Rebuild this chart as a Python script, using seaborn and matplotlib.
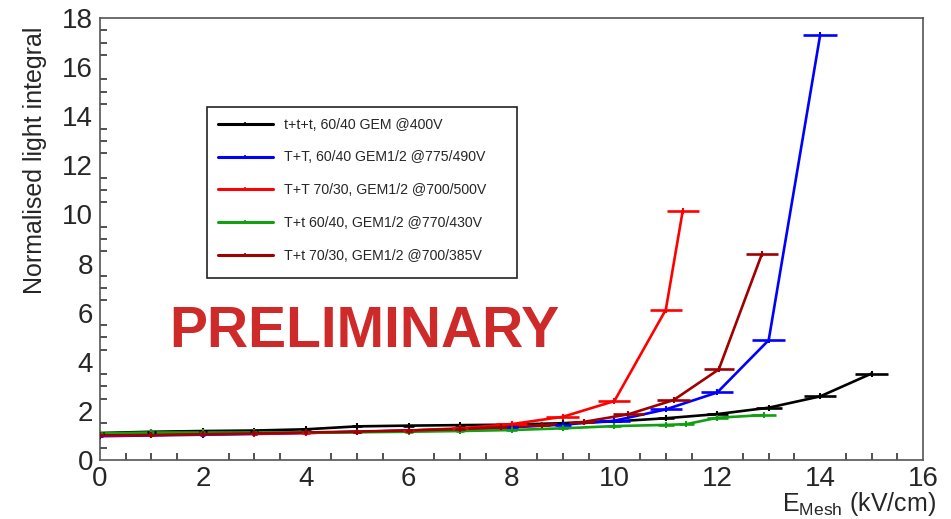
import matplotlib
matplotlib.use("Agg")
import matplotlib.pyplot as plt
from matplotlib.ticker import MultipleLocator
from matplotlib.patches import Rectangle
import seaborn as sns
import pandas as pd

# Normalised light integral vs mesh field for the gas / GEM configurations
labels = [
    "t+t+t, 60/40 GEM @400V",
    "T+T, 60/40 GEM1/2 @775/490V",
    "T+T 70/30, GEM1/2 @700/500V",
    "T+t 60/40, GEM1/2 @770/430V",
    "T+t 70/30, GEM1/2 @700/385V",
]
colors = ["#000000", "#0000ff", "#ff0000", "#11a011", "#a00000"]

e_black = [0, 1, 2, 3, 4, 5, 6, 7, 8, 9, 10, 11, 12, 13, 14, 15]
l_black = [1.10, 1.15, 1.18, 1.20, 1.25, 1.37, 1.40, 1.42, 1.44, 1.50, 1.57, 1.70, 1.87, 2.13, 2.59, 3.52]
xe_black = [0.08, 0.08, 0.08, 0.08, 0.1, 0.1, 0.1, 0.1, 0.12, 0.12, 0.15, 0.15, 0.2, 0.25, 0.31, 0.32]

e_blue = [0, 1, 2, 3, 4, 5, 6, 7, 8, 9, 10, 11, 12, 13, 14]
l_blue = [0.97, 1.00, 1.03, 1.06, 1.10, 1.15, 1.20, 1.26, 1.33, 1.44, 1.60, 2.06, 2.75, 4.88, 17.3]
xe_blue = [0.05, 0.05, 0.05, 0.05, 0.05, 0.08, 0.08, 0.1, 0.12, 0.15, 0.3, 0.31, 0.31, 0.32, 0.33]

e_red = [0, 1, 2, 3, 4, 5, 6, 7, 8, 9, 10, 11, 11.33]
l_red = [1.00, 1.02, 1.05, 1.07, 1.10, 1.14, 1.20, 1.29, 1.46, 1.76, 2.40, 6.12, 10.16]
xe_red = [0.05, 0.05, 0.05, 0.05, 0.08, 0.08, 0.1, 0.15, 0.3, 0.32, 0.31, 0.31, 0.31]

e_green = [0, 1, 2, 3, 4, 5, 6, 7, 8, 9, 10, 11, 11.4, 12, 12.9]
l_green = [1.08, 1.12, 1.12, 1.12, 1.12, 1.13, 1.15, 1.18, 1.22, 1.29, 1.38, 1.43, 1.46, 1.72, 1.83]
xe_green = [0.05, 0.05, 0.05, 0.05, 0.05, 0.05, 0.08, 0.08, 0.1, 0.1, 0.12, 0.15, 0.15, 0.2, 0.25]

e_dred = [0, 1, 2, 3, 4, 5, 6, 7, 7.8, 8.6, 9.4, 10.27, 11.15, 12.03, 12.87]
l_dred = [1.00, 1.02, 1.05, 1.08, 1.12, 1.16, 1.20, 1.26, 1.33, 1.42, 1.55, 1.86, 2.44, 3.69, 8.40]
xe_dred = [0.05, 0.05, 0.05, 0.05, 0.05, 0.08, 0.08, 0.1, 0.12, 0.15, 0.2, 0.3, 0.32, 0.29, 0.31]

series = [
    (e_black, l_black, xe_black),
    (e_blue, l_blue, xe_blue),
    (e_red, l_red, xe_red),
    (e_green, l_green, xe_green),
    (e_dred, l_dred, xe_dred),
]

frames = []
for lab, (e, l, xe) in zip(labels, series):
    frames.append(pd.DataFrame({"E": e, "L": l, "xerr": xe, "config": lab}))
df = pd.concat(frames, ignore_index=True)

sns.set_theme(style="white")
plt.rcParams["font.family"] = ["Liberation Sans", "DejaVu Sans"]
plt.rcParams["mathtext.fontset"] = "custom"
plt.rcParams["mathtext.rm"] = "Liberation Sans"

W, H = 951, 519
fig = plt.figure(figsize=(W / 100, H / 100), dpi=100)
ax = fig.add_axes([100 / W, 1 - 460 / H, 823 / W, 442 / H])

palette = dict(zip(labels, colors))
sns.lineplot(data=df, x="E", y="L", hue="config", hue_order=labels,
             palette=palette, estimator=None, sort=False, linewidth=1.9, ax=ax)

# horizontal error bars with a small tick at each measured point
for lab in labels:
    d = df[df["config"] == lab]
    ax.errorbar(d["E"], d["L"], xerr=d["xerr"], fmt="|", color=palette[lab],
                markersize=4.5, markeredgewidth=1.5,
                ecolor=palette[lab], elinewidth=1.9, capsize=0, zorder=3)

ax.set_xlim(0, 16)
ax.set_ylim(0, 18)
ax.xaxis.set_major_locator(MultipleLocator(2))
ax.xaxis.set_minor_locator(MultipleLocator(0.5))
ax.yaxis.set_major_locator(MultipleLocator(2))
ax.yaxis.set_minor_locator(MultipleLocator(0.5))
ax.tick_params(axis="both", which="both", direction="in", top=False, right=False,
               labelsize=20, color="#222222")
ax.tick_params(which="major", length=10, width=1.1)
ax.tick_params(which="minor", length=5, width=1.1, bottom=True, left=True)
ax.tick_params(axis="x", pad=4)
ax.tick_params(axis="y", pad=5)
for s in ax.spines.values():
    s.set_color("#555555")
    s.set_linewidth(1.2)

ax.set_xlabel("")
ax.set_ylabel("Normalised light integral", fontsize=18)
ax.yaxis.set_label_coords(-(100 - 47) / 823, (460 - 160) / 442)

fig.text(936 / W, 1 - 504 / H, r"E$_{\mathrm{Mesh}}$ (kV/cm)", ha="right",
         va="center", fontsize=18)

ax.text((364 - 100) / 823, (460 - 332) / 442, "PRELIMINARY", transform=ax.transAxes,
        ha="center", va="center", fontsize=41, fontweight="bold", color="#cf2a2a")

# legend frame, with the entries placed inside it
ax.add_patch(Rectangle((207 / W, 1 - 278 / H), 310 / W, 171 / H,
                       transform=fig.transFigure, facecolor="white",
                       edgecolor="#222222", linewidth=1.2, zorder=4))
leg = ax.legend(loc="upper left", bbox_to_anchor=(207 / W, 1 - 107 / H),
                bbox_transform=fig.transFigure, fontsize=10.2, frameon=False,
                handlelength=3.9, labelspacing=1.33, borderpad=0.75,
                borderaxespad=0, handletextpad=0.8)
leg.set_zorder(5)
for line in leg.get_lines():
    line.set_linewidth(2.2)
    line.set_marker("|")
    line.set_markersize(3)
    line.set_markeredgewidth(1.2)
    line.set_markeredgecolor(line.get_color())

fig.savefig("out.png", dpi=100)
